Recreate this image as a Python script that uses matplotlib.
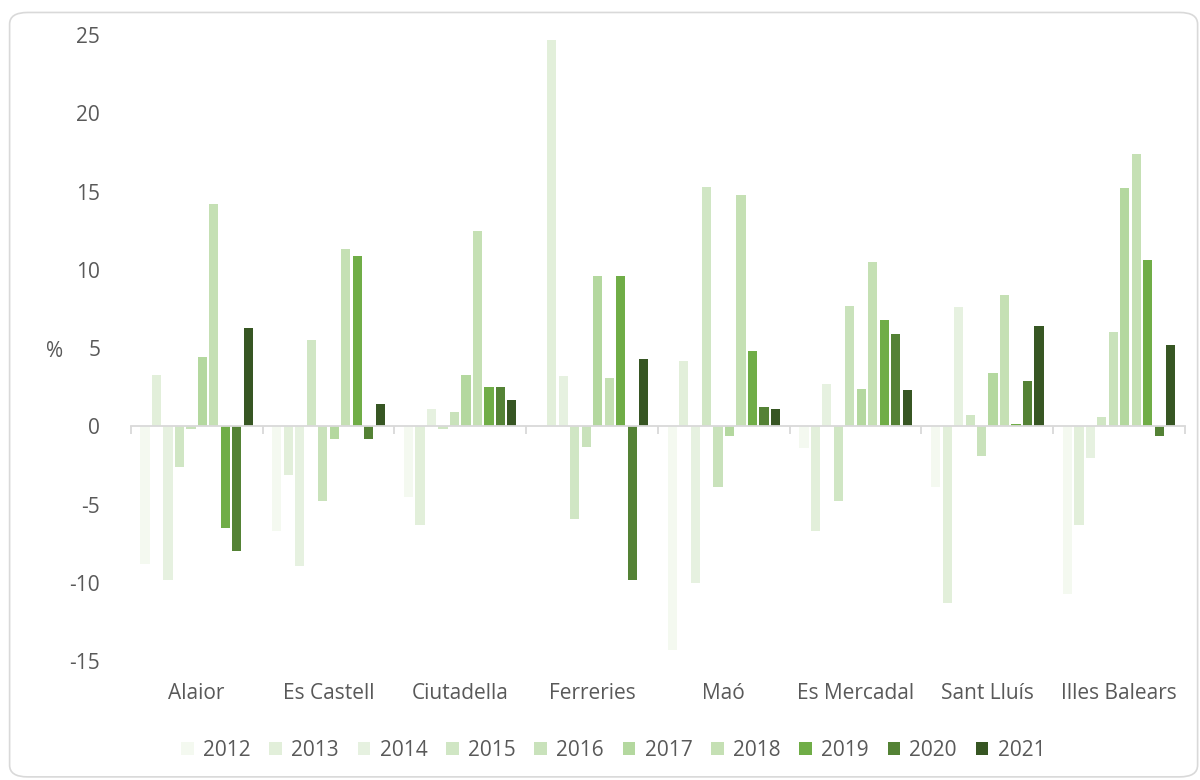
import numpy as np
import matplotlib.pyplot as plt
from matplotlib.patches import FancyBboxPatch

plt.rcParams['font.family'] = ['Open Sans', 'DejaVu Sans']
plt.rcParams['axes.unicode_minus'] = False

municipalities = ["Alaior", "Es Castell", "Ciutadella", "Ferreries", "Maó",
                  "Es Mercadal", "Sant Lluís", "Illes Balears"]
years = ["2012", "2013", "2014", "2015", "2016", "2017", "2018", "2019", "2020", "2021"]

# % change per year, one list per municipality (2012 .. 2021)
alaior = [-8.8, 3.3, -9.8, -2.6, -0.2, 4.4, 14.2, -6.5, -8.0, 6.3]
es_castell = [-6.7, -3.1, -8.9, 5.5, -4.8, -0.8, 11.3, 10.9, -0.8, 1.4]
ciutadella = [-4.5, -6.3, 1.1, -0.15, 0.9, 3.3, 12.5, 2.5, 2.5, 1.7]
ferreries = [0.0, 24.7, 3.2, -5.9, -1.3, 9.6, 3.1, 9.6, -9.8, 4.3]
mao = [-14.3, 4.2, -10.0, 15.3, -3.9, -0.6, 14.8, 4.8, 1.2, 1.1]
es_mercadal = [-1.4, -6.7, 2.7, -4.8, 7.7, 2.4, 10.5, 6.8, 5.9, 2.3]
sant_lluis = [-3.9, -11.3, 7.6, 0.7, -1.9, 3.4, 8.4, 0.15, 2.9, 6.4]
illes_balears = [-10.7, -6.3, -2.0, 0.6, 6.0, 15.2, 17.4, 10.6, -0.6, 5.2]

colors = ["#f4f9f0", "#e2efda", "#e6f1e0", "#d0e6c4", "#c9e2bb",
          "#b4d89f", "#c5e0b4", "#70ad47", "#548235", "#375623"]

table = np.array([alaior, es_castell, ciutadella, ferreries, mao,
                  es_mercadal, sant_lluis, illes_balears])

fig = plt.figure(figsize=(12, 7.8), dpi=100)
ax = fig.add_axes([0.109, 0.1526, 0.8785, 0.8024])

# rounded chart border
fig.patches.append(FancyBboxPatch((0.008, 0.004), 0.99, 0.98, boxstyle="round,pad=0,rounding_size=0.015",
                                  transform=fig.transFigure, facecolor="none",
                                  edgecolor="#d9d9d9", linewidth=1.2))

x = np.arange(len(municipalities))
slot = 0.0871
for i, yr in enumerate(years):
    offs = (i - 4.5) * slot
    ax.bar(x + offs, table[:, i], width=slot * 0.8, color=colors[i], label=yr, zorder=2)

ax.set_xlim(-0.5, len(municipalities) - 0.5)
ax.set_ylim(-15, 25)
ax.set_yticks(np.arange(-15, 26, 5))
ax.tick_params(axis='y', length=0, labelsize=15, labelcolor="#595959", pad=22)

for s in ["top", "right", "left"]:
    ax.spines[s].set_visible(False)
ax.spines["bottom"].set_position(("data", 0))
ax.spines["bottom"].set_color("#d9d9d9")
ax.spines["bottom"].set_linewidth(1.3)
ax.set_xticks(np.arange(-0.5, len(municipalities), 1))
ax.set_xticklabels([])
ax.tick_params(axis='x', length=6, color="#d9d9d9", width=1.3)

for xi, name in zip(x, municipalities):
    ax.text(xi, -0.052, name, transform=ax.get_xaxis_transform(), ha="center", va="center",
            fontsize=15, color="#595959")

fig.text(55 / 1200, 1 - 352 / 780, "%", ha="center", va="center", fontsize=15, color="#595959")

ax.legend(loc="center", bbox_to_anchor=(0.511, 0.038), bbox_transform=fig.transFigure,
          ncol=10, frameon=False, fontsize=15, labelcolor="#595959",
          handlelength=0.6, handleheight=0.6, handletextpad=0.45, columnspacing=0.9)

fig.savefig("out.png", dpi=100)
